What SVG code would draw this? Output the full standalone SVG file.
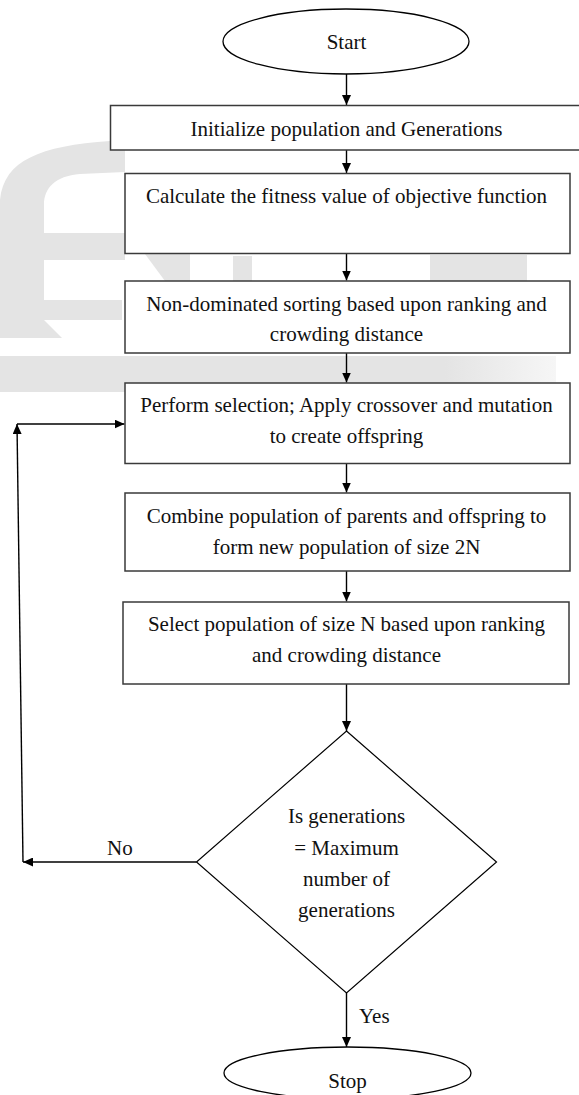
<svg xmlns="http://www.w3.org/2000/svg" width="579" height="1095" viewBox="0 0 579 1095">
<style>
  .box{fill:#fff;stroke:#3a3a3a;stroke-width:1.5}
  .term{fill:#fff;stroke:#000;stroke-width:1.3}
  .dec{fill:#fff;stroke:#000;stroke-width:1.2}
  .t{font-family:"Liberation Serif","Times New Roman",serif;font-size:21px;fill:#111;text-anchor:middle}
  .lab{font-family:"Liberation Serif","Times New Roman",serif;font-size:21px;fill:#111;text-anchor:start}
  .wm{fill:#e4e4e4}
  .c{fill:none;stroke:#000;stroke-width:1.4}
</style>
<defs>
  <marker id="ah" viewBox="0 0 10 9" refX="10" refY="4.5" markerWidth="10" markerHeight="9" markerUnits="userSpaceOnUse" orient="auto">
    <path d="M0,0 L10,4.5 L0,9 Z" fill="#000"/>
  </marker>
  <linearGradient id="fade" x1="0" y1="0" x2="1" y2="0">
    <stop offset="0" stop-color="#e4e4e4"/>
    <stop offset="0.8" stop-color="#e4e4e4"/>
    <stop offset="1" stop-color="#f6f6f6"/>
  </linearGradient>
</defs>

<g id="watermark">
  <path class="wm" d="M0,200 C4,160 40,146 110,141 L125,140 L125,172 L80,174 C55,176 44,188 44,205 L44,233 L125,233 L125,260 L44,260 L44,300 L122,300 L122,320 L0,320 Z"/>
  <path class="wm" d="M0,320 L44,320 L62,338 L0,338 Z"/>
  <rect x="0" y="356" width="556" height="36" fill="url(#fade)"/>
  <polygon class="wm" points="145,254 190,254 190,281 165,281"/>
  <rect class="wm" x="233" y="256" width="19" height="25"/>
  <rect class="wm" x="430" y="255" width="97" height="26"/>
</g>

<g id="connectors">
  <path class="c" d="M346.5,74 V105" marker-end="url(#ah)"/>
  <path class="c" d="M346.5,150 V173" marker-end="url(#ah)"/>
  <path class="c" d="M346.5,254 V280.5" marker-end="url(#ah)"/>
  <path class="c" d="M346.5,353 V382.5" marker-end="url(#ah)"/>
  <path class="c" d="M346.5,464 V492.5" marker-end="url(#ah)"/>
  <path class="c" d="M346.5,571 V601.5" marker-end="url(#ah)"/>
  <path class="c" d="M346.5,684 V731" marker-end="url(#ah)"/>
  <path class="c" d="M346.5,993 V1047" marker-end="url(#ah)"/>
  <path class="c" d="M196.5,862 H23" marker-end="url(#ah)"/>
  <path class="c" d="M23,862 L17,424" marker-end="url(#ah)"/>
  <path class="c" d="M17,424 H124.5" marker-end="url(#ah)"/>
  <text class="lab" x="107" y="855">No</text>
  <text class="lab" x="359" y="1023">Yes</text>
</g>

<g id="start">
  <ellipse class="term" cx="346" cy="41.5" rx="123" ry="32.5"/>
  <text class="t" x="346.5" y="49">Start</text>
</g>

<g id="init">
  <rect class="box" x="110.5" y="105.5" width="475" height="44.5"/>
  <text class="t" x="346.5" y="136">Initialize population and Generations</text>
</g>

<g id="fitness">
  <rect class="box" x="125" y="173.5" width="445" height="80"/>
  <text class="t" x="346.5" y="203">Calculate the fitness value of objective function</text>
</g>

<g id="sorting">
  <rect class="box" x="125" y="281" width="445" height="72"/>
  <text class="t" x="346.5" y="311">Non-dominated sorting based upon ranking and</text>
  <text class="t" x="346.5" y="341">crowding distance</text>
</g>

<g id="selection">
  <rect class="box" x="125" y="383" width="445" height="80.5"/>
  <text class="t" x="346.5" y="412">Perform selection; Apply crossover and mutation</text>
  <text class="t" x="346.5" y="443">to create offspring</text>
</g>

<g id="combine">
  <rect class="box" x="125" y="493" width="445" height="78"/>
  <text class="t" x="346.5" y="523">Combine population of parents and offspring to</text>
  <text class="t" x="346.5" y="554">form new population of size 2N</text>
</g>

<g id="select">
  <rect class="box" x="123" y="602" width="446" height="82"/>
  <text class="t" x="346.5" y="631">Select population of size N based upon ranking</text>
  <text class="t" x="346.5" y="662">and crowding distance</text>
</g>

<g id="decision">
  <polygon class="dec" points="346.5,731 496.5,862 346.5,993 196.5,862"/>
  <text class="t" x="346.5" y="823">Is generations</text>
  <text class="t" x="346.5" y="854.5">= Maximum</text>
  <text class="t" x="346.5" y="886">number of</text>
  <text class="t" x="346.5" y="917">generations</text>
</g>

<g id="stop">
  <ellipse class="term" cx="347.5" cy="1073" rx="123.5" ry="26"/>
  <text class="t" x="347.5" y="1088">Stop</text>
</g>
</svg>
